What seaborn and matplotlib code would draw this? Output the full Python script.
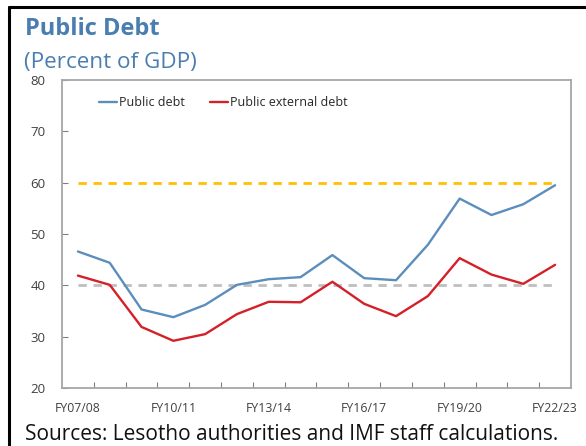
import matplotlib
matplotlib.use("Agg")
import matplotlib.pyplot as plt
from matplotlib.lines import Line2D
from matplotlib.ticker import FixedLocator
import seaborn as sns
import pandas as pd

years = ["FY07/08", "FY08/09", "FY09/10", "FY10/11", "FY11/12", "FY12/13",
         "FY13/14", "FY14/15", "FY15/16", "FY16/17", "FY17/18", "FY18/19",
         "FY19/20", "FY20/21", "FY21/22", "FY22/23"]
public_debt = [46.6, 44.4, 35.3, 33.8, 36.2, 40.1, 41.2, 41.6, 45.9, 41.4,
               41.0, 47.9, 56.9, 53.7, 55.8, 59.5]
external_debt = [41.9, 40.1, 31.9, 29.2, 30.5, 34.4, 36.8, 36.7, 40.7, 36.4,
                 34.0, 37.9, 45.3, 42.1, 40.3, 44.0]
threshold_high = 60
threshold_low = 40
series_names = ["Public debt", "Public external debt"]
series_colors = ["#5B8EBD", "#D42028"]

sns.set_theme(style="white")
plt.rcParams["font.family"] = ["Open Sans", "DejaVu Sans"]

df = pd.DataFrame({
    "idx": list(range(len(years))) * 2,
    "value": public_debt + external_debt,
    "series": [series_names[0]] * len(years) + [series_names[1]] * len(years),
})

fig = plt.figure(figsize=(5.86, 4.46), dpi=100)
ax = fig.add_axes([0.1058, 0.130, 0.8686, 0.6906])

n = len(years)
ax.plot([0, n - 1], [threshold_high] * 2, color="#FFC000", lw=2.0,
        ls=(0, (3.0, 2.4)), zorder=1)
ax.plot([0, n - 1], [threshold_low] * 2, color="#BFBFBF", lw=2.0,
        ls=(0, (3.0, 2.4)), zorder=1)

sns.lineplot(data=df, x="idx", y="value", hue="series", palette=series_colors,
             hue_order=series_names, lw=1.7, ax=ax, legend=False, zorder=3)

ax.set_xlim(-0.5, n - 0.5)
ax.set_ylim(20, 80)
ax.set_yticks(range(20, 81, 10))
ax.set_xticks(list(range(0, n, 3)))
ax.set_xticklabels(years[::3])
ax.xaxis.set_minor_locator(FixedLocator([k + 0.5 for k in range(n - 1)]))
ax.set_xlabel("")
ax.set_ylabel("")

ax.tick_params(axis="x", which="major", length=0, pad=10, labelsize=8.8,
               labelcolor="#404040")
ax.tick_params(axis="x", which="minor", direction="in", length=4,
               width=0.8, color="#808080", bottom=True)
ax.tick_params(axis="y", direction="in", length=4, width=0.8, color="#808080",
               left=True, pad=12, labelsize=9.5, labelcolor="#404040")
for sp in ax.spines.values():
    sp.set_color("#A6A6A6")
    sp.set_linewidth(1.3)

handles = [Line2D([], [], color=c, lw=1.7) for c in series_colors]
ax.legend(handles, series_names, loc="upper left", bbox_to_anchor=(0.05, 0.985),
          ncol=2, frameon=False, fontsize=9, handlelength=1.5,
          handletextpad=0.1, columnspacing=2.0, labelcolor="#262626")

fig.text(0.043, 0.922, "Public Debt", fontsize=17, fontweight="bold",
         color="#4A7EB0", va="baseline")
fig.text(0.041, 0.848, "(Percent of GDP)", fontsize=16.2,
         color="#4A7EB0", va="baseline")
fig.text(0.043, 0.013, "Sources: Lesotho authorities and IMF staff calculations.",
         fontsize=15, color="#111111", va="baseline")

# black frame along the top and left edges
fig.add_artist(Line2D([0.015, 1.0], [0.985, 0.985], color="black", lw=2.2,
                      transform=fig.transFigure))
fig.add_artist(Line2D([0.015, 0.015], [0.0, 0.985], color="black", lw=2.2,
                      transform=fig.transFigure))

fig.savefig("out.png", dpi=100, facecolor="white")
